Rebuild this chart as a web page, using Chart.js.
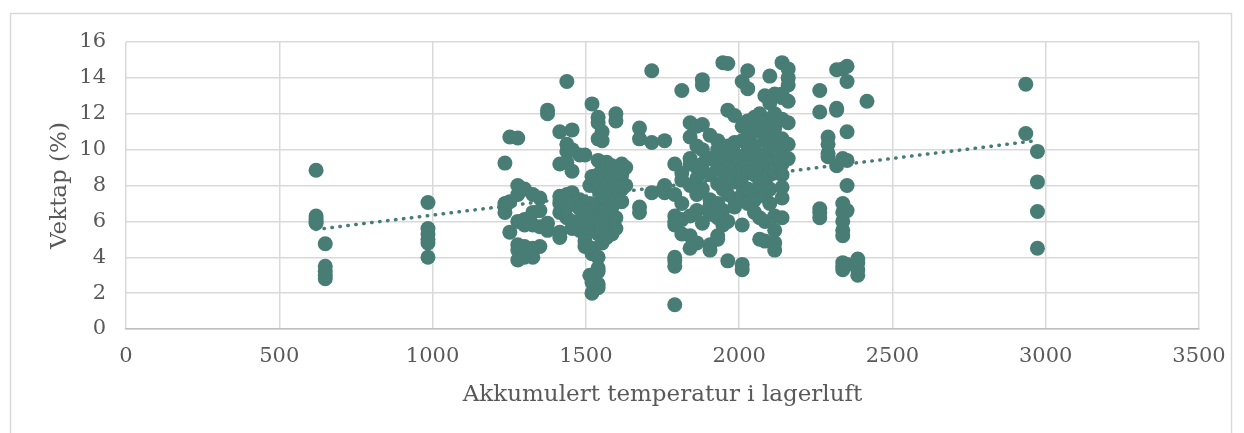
<!DOCTYPE html>
<html lang="en">
<head>
    <title>Vekttap</title>
    <script src="https://cdn.jsdelivr.net/npm/chart.js"></script>
    <style>
        body { margin: 0; background: #fff; }
        #chart-container { position: relative; width: 1244px; height: 433px; }
    </style>
</head>
<body>
    <div id="chart-container">
        <canvas id="chart" width="1244" height="433"></canvas>
    </div>

    <script>
        // each column: one temperature value with the losses read at that x
        var columnTemps = [620, 650, 985,
            1236, 1252, 1278, 1300, 1327, 1350, 1375, 1415, 1438, 1455, 1480, 1497, 1513, 1520,
            1540, 1553, 1568, 1585, 1598, 1617, 1630, 1675, 1715, 1757, 1790, 1813, 1840, 1862,
            1880, 1905, 1930, 1947, 1963, 1985, 2010, 2028, 2050, 2067, 2084, 2100, 2116, 2140,
            2160, 2263, 2290, 2318, 2338, 2352, 2387, 2417, 2935, 2973];
        var columnLosses = [
            [8.85, 6.3, 6.1, 5.9, 6.0],
            [4.75, 3.5, 3.2, 2.8, 3.0],
            [7.05, 5.6, 5.3, 5.0, 4.8, 4.0],
            [9.25, 7.0, 6.8, 6.5],
            [10.7, 7.1, 5.4],
            [10.65, 8.0, 7.5, 6.0, 4.7, 4.4, 3.85],
            [7.8, 6.1, 5.8, 4.6, 4.3, 4.0],
            [7.5, 6.5, 5.8, 4.5, 4.0],
            [7.3, 6.6, 5.7, 4.6],
            [12.2, 12.0, 5.9, 5.5],
            [11.0, 9.2, 7.4, 7.0, 6.5, 5.4, 5.1],
            [13.8, 10.3, 9.9, 9.3, 7.5, 6.8, 6.2],
            [11.1, 10.0, 8.8, 7.6, 7.1, 6.0, 5.6],
            [9.7, 7.2, 6.7, 6.0, 5.5],
            [9.7, 6.3, 5.2, 4.9, 4.6],
            [8.0, 7.0, 6.6, 5.8, 3.0],
            [12.55, 8.5, 4.5, 4.2, 2.6, 2.0],
            [11.8, 11.5, 10.6, 9.4, 8.6, 7.8, 7.0, 6.1, 5.3, 4.0, 3.4, 3.2, 2.5, 2.3],
            [11.0, 10.5, 8.9, 8.1, 7.5, 6.3, 5.5, 4.8],
            [9.3, 7.9, 7.2, 6.6, 5.7, 5.1],
            [9.1, 8.4, 7.7, 6.8, 5.9, 5.3],
            [12.0, 11.6, 8.2, 7.2, 6.2, 5.6],
            [9.2, 8.6, 7.8, 7.1],
            [9.0, 8.0],
            [11.2, 10.6, 6.8, 6.5],
            [14.4, 10.4, 7.6],
            [10.5, 8.0, 7.6],
            [9.2, 7.5, 6.3, 6.0, 5.8, 4.0, 3.8, 3.5, 1.35],
            [13.3, 8.7, 8.3, 7.0, 6.1, 5.3],
            [11.5, 10.7, 9.5, 9.2, 8.0, 6.3, 5.2, 4.5],
            [11.3, 10.2, 9.0, 8.4, 7.5, 6.6, 4.8],
            [13.9, 13.6, 11.4, 10.0, 9.2, 8.8, 7.8, 5.9],
            [10.8, 9.5, 8.6, 7.2, 6.9, 6.4, 4.7, 4.4],
            [10.5, 10.0, 9.0, 8.1, 7.0, 6.2, 5.2, 5.0],
            [14.85, 10.2, 9.6, 8.8, 7.8, 6.6, 5.8],
            [14.8, 12.2, 10.2, 9.4, 8.5, 7.5, 6.0, 3.8],
            [11.9, 10.4, 9.8, 9.0, 8.2, 7.2, 6.8],
            [13.8, 11.3, 10.5, 9.6, 8.9, 8.5, 8.0, 7.5, 5.8, 3.6, 3.3],
            [14.4, 13.4, 11.6, 10.8, 9.9, 9.2, 8.7, 7.8, 7.0],
            [11.8, 11.0, 10.2, 9.5, 8.6, 7.6, 7.2, 6.5],
            [12.0, 11.2, 9.7, 9.0, 8.1, 6.2, 5.0],
            [13.0, 11.4, 10.5, 9.3, 8.3, 7.4, 6.0, 4.9],
            [14.1, 12.6, 11.7, 10.8, 10.1, 9.5, 8.6, 7.8, 7.0],
            [13.1, 12.0, 11.2, 10.3, 9.4, 8.7, 6.3, 5.5, 4.8, 4.4],
            [14.85, 13.1, 12.9, 11.7, 10.6, 10.0, 9.2, 8.6, 7.9, 7.3, 6.2],
            [14.5, 14.0, 13.6, 12.7, 11.5, 10.3, 9.5],
            [13.3, 12.1, 6.7, 6.5, 6.2],
            [10.7, 10.3, 9.8, 9.6],
            [14.45, 12.3, 12.2, 9.1],
            [14.5, 9.5, 7.0, 6.5, 6.0, 5.5, 5.2, 3.7, 3.5, 3.3],
            [14.65, 13.8, 11.0, 9.4, 8.0, 6.6, 3.6],
            [3.9, 3.7, 3.3, 3.0],
            [12.7],
            [13.65, 10.9],
            [9.9, 8.2, 6.55, 4.5]
        ];

        // dotted linear trendline, ends
        var trendTemps = [620, 2970];
        var trendLosses = [5.55, 10.5];

        var xTicks = [0, 500, 1000, 1500, 2000, 2500, 3000, 3500];
        var yTicks = [0, 2, 4, 6, 8, 10, 12, 14, 16];

        var pointColor = 'rgb(71, 125, 116)';
        var labelColor = '#595959';
        var gridColor = '#d9d9d9';

        var points = [];
        columnTemps.forEach(function(t, i) {
            columnLosses[i].forEach(function(v) {
                points.push({ x: t, y: v });
            });
        });
        var trend = trendTemps.map(function(t, i) { return { x: t, y: trendLosses[i] }; });

        var outerBorder = {
            id: 'outerBorder',
            beforeDraw: function(c) {
                var ctx = c.ctx;
                ctx.save();
                ctx.fillStyle = '#fff';
                ctx.fillRect(0, 0, c.width, c.height);
                ctx.strokeStyle = gridColor;
                ctx.lineWidth = 1.5;
                ctx.strokeRect(10.5, 13.5, 1221, 440);
                ctx.restore();
            }
        };

        var ctx = document.getElementById('chart').getContext('2d');
        var chart = new Chart(ctx, {
            type: 'scatter',
            data: {
                datasets: [{
                    type: 'line',
                    data: trend,
                    borderColor: pointColor,
                    borderWidth: 3.5,
                    borderDash: [0.5, 7.5],
                    borderCapStyle: 'round',
                    pointRadius: 0,
                    fill: false
                }, {
                    data: points,
                    backgroundColor: pointColor,
                    borderWidth: 0,
                    pointRadius: 7.5,
                    pointHoverRadius: 7.5
                }]
            },
            options: {
                responsive: false,
                animation: false,
                layout: { padding: { left: 0, top: 42, right: 45, bottom: 0 } },
                plugins: {
                    legend: { display: false },
                    tooltip: { enabled: false }
                },
                scales: {
                    x: {
                        type: 'linear',
                        min: xTicks[0],
                        max: xTicks[xTicks.length - 1],
                        afterBuildTicks: function(s) { s.ticks = xTicks.map(function(v) { return { value: v }; }); },
                        afterFit: function(s) { s.height = 104; },
                        grid: { color: gridColor, lineWidth: 1.5, drawTicks: false },
                        border: { color: '#bfbfbf', width: 1.5 },
                        ticks: {
                            color: labelColor,
                            padding: 15,
                            maxRotation: 0,
                            autoSkip: false,
                            callback: function(v) { return String(v); },
                            font: { family: 'DejaVu Serif', size: 21 }
                        },
                        title: {
                            display: true,
                            text: 'Akkumulert temperatur i lagerluft',
                            color: labelColor,
                            padding: { top: 0, bottom: 24 },
                            font: { family: 'DejaVu Serif', size: 23 }
                        }
                    },
                    y: {
                        min: yTicks[0],
                        max: yTicks[yTicks.length - 1],
                        afterBuildTicks: function(s) { s.ticks = yTicks.map(function(v) { return { value: v }; }); },
                        afterFit: function(s) { s.width = 126; },
                        grid: { color: gridColor, lineWidth: 1.5, drawTicks: false },
                        border: { display: false },
                        ticks: {
                            color: labelColor,
                            padding: 20,
                            autoSkip: false,
                            callback: function(v) { return String(v); },
                            font: { family: 'DejaVu Serif', size: 21 }
                        },
                        title: {
                            display: true,
                            text: 'Vektap (%)',
                            color: labelColor,
                            padding: { top: 46, bottom: 0 },
                            font: { family: 'DejaVu Serif', size: 23 }
                        }
                    }
                }
            },
            plugins: [outerBorder]
        });
    </script>
</body>
</html>
